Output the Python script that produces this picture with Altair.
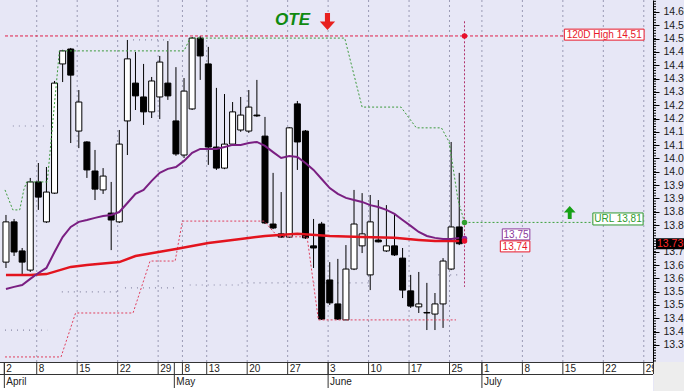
import altair as alt
import numpy as np
import pandas as pd

XMIN, XMAX = -0.12, 79.32
YMIN, YMAX = 13.286, 14.645
W, H = 653, 362
PX_X = W / (XMAX - XMIN)
PX_Y = H / (YMAX - YMIN)

# ---- candles (trading-day index) ----
day = list(range(57))
opens = [13.661, 13.812, 13.703, 13.631, 13.962, 13.812, 13.920, 14.405, 14.461, 14.153,
         14.112, 14.003, 13.932, 13.845, 13.812, 14.191, 14.333, 14.281, 14.225, 14.281,
         14.333, 14.191, 14.063, 14.236, 14.502, 14.405, 14.093, 14.014, 14.104, 14.157,
         14.153, 14.213, 14.134, 13.804, 13.767, 13.755, 14.255, 14.153, 13.722, 13.804,
         13.594, 13.504, 13.444, 13.635, 13.722, 13.613, 13.744, 13.703, 13.722, 13.676,
         13.553, 13.493, 13.472, 13.466, 13.504, 13.635, 13.793]
highs = [13.838, 13.823, 13.714, 13.977, 14.033, 14.018, 14.341, 14.458, 14.465, 14.307,
         14.115, 14.082, 14.014, 13.962, 14.157, 14.495, 14.450, 14.405, 14.356, 14.435,
         14.491, 14.393, 14.352, 14.506, 14.510, 14.469, 14.315, 14.292, 14.262, 14.281,
         14.307, 14.345, 14.206, 13.996, 13.924, 14.168, 14.266, 14.157, 13.823, 13.812,
         13.661, 13.673, 13.725, 13.932, 13.920, 13.913, 13.894, 13.875, 13.845, 13.714,
         13.613, 13.624, 13.583, 13.545, 13.676, 14.112, 13.996]
lows = [13.639, 13.684, 13.613, 13.624, 13.857, 13.808, 13.917, 14.337, 14.108, 14.089,
        13.977, 13.894, 13.917, 13.706, 13.808, 14.063, 14.232, 14.176, 14.202, 14.198,
        14.270, 14.060, 14.052, 14.232, 14.345, 14.026, 14.007, 14.010, 14.100, 14.150,
        14.146, 14.206, 13.804, 13.785, 13.752, 13.752, 14.007, 13.748, 13.639, 13.444,
        13.500, 13.444, 13.444, 13.631, 13.695, 13.556, 13.735, 13.699, 13.684, 13.526,
        13.489, 13.470, 13.406, 13.406, 13.414, 13.631, 13.725]
closes = [13.812, 13.699, 13.661, 13.962, 13.905, 13.924, 14.333, 14.454, 14.363, 14.262,
          14.007, 13.935, 13.984, 13.819, 14.104, 14.424, 14.285, 14.225, 14.341, 14.412,
          14.285, 14.067, 14.303, 14.502, 14.435, 14.093, 14.014, 14.104, 14.225, 14.213,
          14.243, 14.210, 13.808, 13.789, 13.755, 14.165, 14.112, 13.752, 13.714, 13.447,
          13.508, 13.447, 13.635, 13.804, 13.767, 13.812, 13.737, 13.722, 13.688, 13.556,
          13.496, 13.504, 13.470, 13.504, 13.665, 13.793, 13.730]

# ---- moving averages ----
ma_fast = [13.560, 13.568, 13.575, 13.598, 13.620, 13.639, 13.699, 13.755, 13.793, 13.812,
           13.819, 13.827, 13.834, 13.838, 13.849, 13.883, 13.917, 13.932, 13.966, 13.996,
           14.011, 14.018, 14.041, 14.071, 14.086, 14.086, 14.086, 14.093, 14.101, 14.101,
           14.108, 14.112, 14.097, 14.074, 14.052, 14.059, 14.056, 14.033, 14.007, 13.973,
           13.939, 13.917, 13.902, 13.894, 13.887, 13.875, 13.868, 13.857, 13.842, 13.819,
           13.797, 13.774, 13.759, 13.752, 13.748, 13.748, 13.752]
ma_slow_day = [0, 3, 5, 8, 10, 14, 16, 21, 25, 29, 32, 36, 40, 44, 48, 51, 53, 56]
ma_slow = [13.613, 13.613, 13.616, 13.643, 13.650, 13.661, 13.684, 13.710, 13.733, 13.748,
           13.759, 13.767, 13.759, 13.755, 13.752, 13.744, 13.740, 13.740]

# ---- channels ----
upper_day = [-0.12, 0.85, 1.7, 2.2, 2.55, 5.1, 6.6, 22.0, 22.75, 41.85, 44.0, 48.8, 50.7,
             53.8, 54.75, 55.85, 56.65]
upper_val = [13.932, 13.857, 13.857, 13.932, 13.962, 13.962, 14.454, 14.454, 14.502, 14.502,
             14.243, 14.243, 14.165, 14.165, 14.112, 13.894, 13.81]
lower_day = [-0.12, 6.8, 8.6, 15.7, 17.8, 20.9, 21.8, 29.4, 31.9, 33.6, 37.2, 38.6, 55.6]
lower_val = [13.305, 13.305, 13.470, 13.470, 13.665, 13.665, 13.815, 13.815, 13.815, 13.756,
             13.756, 13.444, 13.444]
grey_seg = [0, 0, 1, 1, 2, 2, 3, 3, 4, 4, 5, 5, 6, 6, 7, 7]
grey_day = [-0.12, 5.1, 6.9, 14.1, 14.7, 20.9, 22.7, 29.1, 29.1, 44.9, 53.4, 55.9,
            0.85, 4.75, 15.7, 20.2]
grey_val = [13.406, 13.406, 13.549, 13.549, 13.564, 13.564, 13.575, 13.575, 13.583, 13.583,
            13.613, 13.613, 14.172, 14.172, 14.495, 14.495]

# ---- x axis labels ----
tick_day = [0, 4, 9, 14, 19, 22, 25, 30, 35, 40, 45, 50, 55, 59, 64, 69, 74, 79]
tick_label = ["2", "8", "15", "22", "29", "8", "13", "20", "27", "3", "10", "17", "25",
              "1", "8", "15", "22", "29"]
month_day = [0, 21, 40, 59]
month_name = ["April", "May", "June", "July"]

# ---- levels & annotations ----
today = 56.65
high120 = 14.51
url_level = 13.81
fast_last = 13.75
slow_last = 13.74
last_price = 13.730

FONT = "Liberation Sans"
BG = "#E7E7F6"
GREEN = "#2E9A2E"
RED = "#E8182A"
PURPLE = "#7A1F82"

xs = alt.Scale(domain=[XMIN, XMAX], nice=False, zero=False)
ys = alt.Scale(domain=[YMIN, YMAX], nice=False, zero=False)
# the 13.75 label sits under the last-price tag in the reference, so it is not drawn
yvals = [round(v, 2) for v in np.arange(13.35, 14.651, 0.05) if abs(v - 13.75) > 0.001]
yaxis = alt.Axis(orient="right", values=yvals, format=".2f", title=None, grid=False,
                 labelFont=FONT, labelFontSize=10.5, labelColor="#1a1a1a", labelPadding=4,
                 tickSize=6, tickColor="black", domainColor="black", labelOverlap=False)


def X(f):
    return alt.X(f, type="quantitative", scale=xs, axis=None)


def Y(f):
    return alt.Y(f, type="quantitative", scale=ys, axis=yaxis)


def Y2(f):
    return alt.Y2(f)


one = pd.DataFrame({"a": [0]})

candles = pd.DataFrame({"day": day, "o": opens, "h": highs, "l": lows, "c": closes})
candles["fill"] = np.where(candles["c"] >= candles["o"], "white", "black")

ticks = pd.DataFrame({"d": [t - 0.2 for t in tick_day], "lab": tick_label})
months = pd.DataFrame({"d": [m - 0.2 for m in month_day], "lab": month_name})

layers = []

# bottom strip
layers.append(alt.Chart(one).mark_rect(fill="white").encode(
    x=alt.value(0), x2=alt.value(W), y=alt.value(H), y2=alt.value(H + 29)))

# vertical grid
layers.append(alt.Chart(ticks[1:]).mark_rule(color="#9A9AB4", strokeDash=[2, 3], strokeWidth=1).encode(
    x=X("d"), y=alt.value(0), y2=alt.value(H)))

# grey dotted levels
grey = pd.DataFrame({"seg": grey_seg, "d": grey_day, "p": grey_val})
layers.append(alt.Chart(grey).mark_line(color="#8A8AA6", strokeDash=[1, 5], strokeWidth=1.2).encode(
    x=X("d"), y=Y("p"), detail="seg:N"))

# candles
layers.append(alt.Chart(candles).mark_rule(color="black", strokeWidth=1).encode(
    x=X("day"), y=Y("h"), y2=Y2("l")))
layers.append(alt.Chart(candles).mark_bar(width=6, stroke="black", strokeWidth=1).encode(
    x=X("day"), y=Y("o"), y2=Y2("c"), fill=alt.Fill("fill:N", scale=None)))

# channels
lower = pd.DataFrame({"d": lower_day, "p": lower_val})
layers.append(alt.Chart(lower).mark_line(color="#E0405E", strokeDash=[2, 2], strokeWidth=1).encode(
    x=X("d"), y=Y("p")))
upper = pd.DataFrame({"d": upper_day, "p": upper_val})
layers.append(alt.Chart(upper).mark_line(color="#3C9A3C", strokeDash=[2, 2], strokeWidth=1).encode(
    x=X("d"), y=Y("p")))

# moving averages
slow = pd.DataFrame({"d": ma_slow_day, "p": ma_slow})
layers.append(alt.Chart(slow).mark_line(color="#E3141E", strokeWidth=2.5).encode(x=X("d"), y=Y("p")))
fast = pd.DataFrame({"d": day, "p": ma_fast})
layers.append(alt.Chart(fast).mark_line(color=PURPLE, strokeWidth=2).encode(x=X("d"), y=Y("p")))

# annotation boxes / labels
ann = pd.DataFrame({
    "text": ["120D High 14,51", "URL 13,81", "13,75", "13,74"],
    "d": [73.91, 75.61, 63.02, 62.90],
    "p": [14.515, 13.823, 13.765, 13.720],
    "w": [81, 51, 28, 30],
    "h": [11, 12, 11, 11],
    "col": [RED, GREEN, "#8B3A9B", RED],
})
ann["x0"] = ann["d"] - ann["w"] / 2 / PX_X
ann["x1"] = ann["d"] + ann["w"] / 2 / PX_X
ann["y0"] = ann["p"] - ann["h"] / 2 / PX_Y
ann["y1"] = ann["p"] + ann["h"] / 2 / PX_Y

# level lines
lv = pd.DataFrame({"d": [XMIN, today], "d2": [ann["x0"][0], ann["x0"][1]],
                   "p": [high120, url_level]})
layers.append(alt.Chart(lv[:1]).mark_rule(color="#E0204A", strokeDash=[3, 2], strokeWidth=1).encode(
    x=X("d"), x2=alt.X2("d2"), y=Y("p")))
layers.append(alt.Chart(lv[1:]).mark_rule(color="#3CA03C", strokeDash=[2, 2], strokeWidth=1).encode(
    x=X("d"), x2=alt.X2("d2"), y=Y("p")))
vline = pd.DataFrame({"d": [today], "p": [14.565], "p2": [13.568]})
layers.append(alt.Chart(vline).mark_rule(color="#B0306A", strokeDash=[2, 2], strokeWidth=1).encode(
    x=X("d"), y=Y("p"), y2=Y2("p2")))

dots = pd.DataFrame({"d": [today] * 4, "p": [high120, url_level, fast_last, slow_last],
                     "col": ["#E8102A", "#2EA02E", "#8B2A9B", "#E8102A"]})
layers.append(alt.Chart(dots).mark_circle(size=30, opacity=1).encode(
    x=X("d"), y=Y("p"), color=alt.Color("col:N", scale=None)))

layers.append(alt.Chart(ann).mark_rect(fill="white", strokeWidth=1).encode(
    x=X("x0"), x2=alt.X2("x1"), y=Y("y0"), y2=Y2("y1"), stroke=alt.Stroke("col:N", scale=None)))
layers.append(alt.Chart(ann).mark_text(font=FONT, fontSize=10, align="center", baseline="middle", dy=0.5).encode(
    x=X("d"), y=Y("p"), text="text:N", color=alt.Color("col:N", scale=None)))

# arrows
DOWN = "M-0.3,-1L0.3,-1L0.3,0L0.9,0L0,1L-0.9,0L-0.3,0Z"
UP = "M-0.3,1L0.3,1L0.3,0L0.9,0L0,-1L-0.9,0L-0.3,0Z"
arr_down = pd.DataFrame({"d": [39.72], "p": [14.564]})
arr_up = pd.DataFrame({"d": [69.65], "p": [13.847]})
layers.append(alt.Chart(arr_down).mark_point(shape=DOWN, filled=True, size=289, color="#E8201E",
                                             opacity=1, strokeWidth=0).encode(x=X("d"), y=Y("p")))
layers.append(alt.Chart(arr_up).mark_point(shape=UP, filled=True, size=169, color="#16A016",
                                           opacity=1, strokeWidth=0).encode(x=X("d"), y=Y("p")))

ote = pd.DataFrame({"d": [35.40], "p": [14.551], "t": ["OTE"]})
layers.append(alt.Chart(ote).mark_text(font=FONT, fontSize=17, fontWeight="bold", fontStyle="italic",
                                       color="#108A10", align="center", baseline="alphabetic").encode(
    x=X("d"), y=Y("p"), text="t:N"))

# bottom axis
layers.append(alt.Chart(one).mark_rule(color="#333333", strokeWidth=1).encode(
    x=alt.value(0), x2=alt.value(W), y=alt.value(H + 0.5)))
layers.append(alt.Chart(one).mark_rule(color="#333333", strokeWidth=1).encode(
    x=alt.value(0), x2=alt.value(W), y=alt.value(H + 12.5)))
layers.append(alt.Chart(ticks).mark_rule(color="#333333", strokeWidth=1).encode(
    x=X("d"), y=alt.value(H), y2=alt.value(H + 12)))
layers.append(alt.Chart(months).mark_rule(color="#333333", strokeWidth=1).encode(
    x=X("d"), y=alt.value(H), y2=alt.value(H + 26)))
layers.append(alt.Chart(ticks).mark_text(font=FONT, fontSize=10, align="left", baseline="middle",
                                         dx=2, color="#222222").encode(
    x=X("d"), y=alt.value(H + 6.5), text="lab:N"))
layers.append(alt.Chart(months).mark_text(font=FONT, fontSize=10, align="left", baseline="middle",
                                          dx=2, color="#222222").encode(
    x=X("d"), y=alt.value(H + 19.5), text="lab:N"))

# right-bottom corner
layers.append(alt.Chart(one).mark_rect(fill="#EDEDED").encode(
    x=alt.value(W + 1), x2=alt.value(W + 31), y=alt.value(H), y2=alt.value(H + 29)))
layers.append(alt.Chart(one).mark_rule(color="#333333", strokeWidth=1).encode(
    x=alt.value(W + 0.5), y=alt.value(H), y2=alt.value(H + 12)))

# minor ticks on price axis
minor = pd.DataFrame({"p": [round(v, 2) for v in np.arange(13.29, 14.645, 0.01)]})
layers.append(alt.Chart(minor).mark_rule(color="black", strokeWidth=1).encode(
    x=alt.value(W), x2=alt.value(W + 3), y=Y("p")))

# last price tag
lp = pd.DataFrame({"p": [last_price], "p0": [last_price - 5.5 / PX_Y],
                   "p1": [last_price + 5.5 / PX_Y], "t": ["13.730"]})
layers.append(alt.Chart(lp).mark_rect(fill="black").encode(
    x=alt.value(W + 3), x2=alt.value(W + 40), y=Y("p0"), y2=Y2("p1")))
layers.append(alt.Chart(lp).mark_text(font=FONT, fontSize=10.5, align="left", baseline="middle",
                                      color="#FF2A2A").encode(
    x=alt.value(W + 4), y=Y("p"), text="t:N"))

chart = alt.layer(*layers).properties(
    width=W, height=H, background=BG,
    padding={"left": 0, "top": 0, "right": 31, "bottom": 29},
    autosize=alt.AutoSizeParams(type="none"),
).configure_view(stroke=None)

chart.save("out.html", embed_options={"renderer": "svg", "actions": False})
